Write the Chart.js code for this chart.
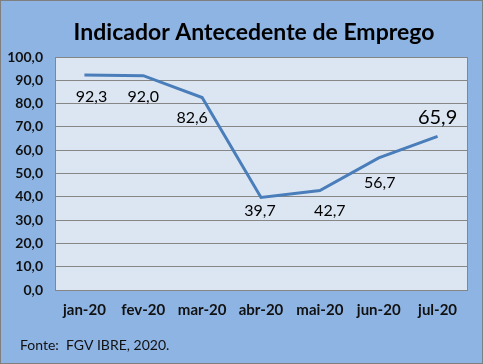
<!DOCTYPE html>
<html lang="pt">
<head>
  <meta charset="UTF-8">
  <title>Indicador Antecedente de Emprego</title>
  <script src="https://cdn.jsdelivr.net/npm/chart.js"></script>
  <style>
    body { margin: 0; background: #fff; }
    #wrap { width: 483px; height: 364px; }
  </style>
</head>
<body>
  <div id="wrap"><canvas id="iaemp" width="483" height="364"></canvas></div>

  <script>
    // data
    const months = ['jan-20', 'fev-20', 'mar-20', 'abr-20', 'mai-20', 'jun-20', 'jul-20'];
    const iaempValues = [92.3, 92.0, 82.6, 39.7, 42.7, 56.7, 65.9];
    const yTicks = [0, 10, 20, 30, 40, 50, 60, 70, 80, 90, 100];

    // label nudges (pixels) to follow the hand placed Excel labels
    const labelDx = [7, 0, -10, -1, 10, 1, 0];
    const labelDy = [22, 21, 20, 13, 20, 25, -19];

    const FONT = 'Lato, "Open Sans", sans-serif';
    const fmt = v => v.toFixed(1).replace('.', ',');

    // background, plot area, title, source note and value labels
    const decor = {
      id: 'decor',
      beforeDraw(chart) {
        const { ctx, chartArea: a, width, height } = chart;
        ctx.save();
        ctx.fillStyle = '#8eb4e3';
        ctx.fillRect(0, 0, width, height);
        ctx.strokeStyle = '#7f7f7f';
        ctx.lineWidth = 1;
        ctx.strokeRect(0.5, 0.5, width - 1, height - 1);
        ctx.fillStyle = '#dce6f2';
        ctx.fillRect(a.left, a.top, a.right - a.left, a.bottom - a.top);
        ctx.restore();
      },
      afterDraw(chart) {
        const { ctx, chartArea: a } = chart;
        ctx.save();
        ctx.strokeStyle = '#868686';
        ctx.lineWidth = 1;
        ctx.strokeRect(Math.round(a.left) + 0.5, Math.round(a.top) + 0.5,
          Math.round(a.right - a.left), Math.round(a.bottom - a.top));

        ctx.fillStyle = '#000';
        ctx.textAlign = 'center';
        ctx.textBaseline = 'middle';
        ctx.font = 'bold 23px ' + FONT;
        ctx.fillText('Indicador Antecedente de Emprego', 254, 33);

        ctx.textAlign = 'left';
        ctx.font = '14px ' + FONT;
        ctx.fillStyle = '#111';
        ctx.fillText('Fonte:  FGV IBRE, 2020.', 20, 345);

        const meta = chart.getDatasetMeta(0);
        ctx.textAlign = 'center';
        ctx.fillStyle = '#000';
        meta.data.forEach((pt, i) => {
          const last = i === meta.data.length - 1;
          ctx.font = (last ? '20px ' : '16px ') + FONT;
          ctx.fillText(fmt(iaempValues[i]), pt.x + labelDx[i], pt.y + labelDy[i]);
        });
        ctx.restore();
      }
    };

    const ctx = document.getElementById('iaemp').getContext('2d');
    new Chart(ctx, {
      type: 'line',
      data: {
        labels: months,
        datasets: [{
          label: 'IAEmp',
          data: iaempValues,
          borderColor: '#4a7ebb',
          borderWidth: 3,
          pointRadius: 0,
          tension: 0,
          fill: false
        }]
      },
      options: {
        responsive: false,
        animation: false,
        layout: { padding: { top: 57, right: 16, left: 0, bottom: 0 } },
        plugins: {
          legend: { display: false },
          title: { display: false },
          tooltip: { enabled: false }
        },
        scales: {
          x: {
            offset: true,
            grid: { display: false, drawTicks: false },
            border: { display: false },
            ticks: {
              color: '#111',
              padding: 11,
              maxRotation: 0,
              font: { family: FONT, size: 15, weight: 'bold' }
            },
            afterFit(scale) { scale.height = 74; }
          },
          y: {
            min: 0,
            max: 100,
            afterBuildTicks(scale) { scale.ticks = yTicks.map(v => ({ value: v })); },
            grid: { color: '#868686', lineWidth: 1, drawTicks: false },
            border: { display: false },
            ticks: {
              color: '#111',
              padding: 12,
              font: { family: FONT, size: 14, weight: 'bold' },
              callback: v => fmt(v)
            },
            afterFit(scale) { scale.width = 55; }
          }
        }
      },
      plugins: [decor]
    });
  </script>
</body>
</html>
